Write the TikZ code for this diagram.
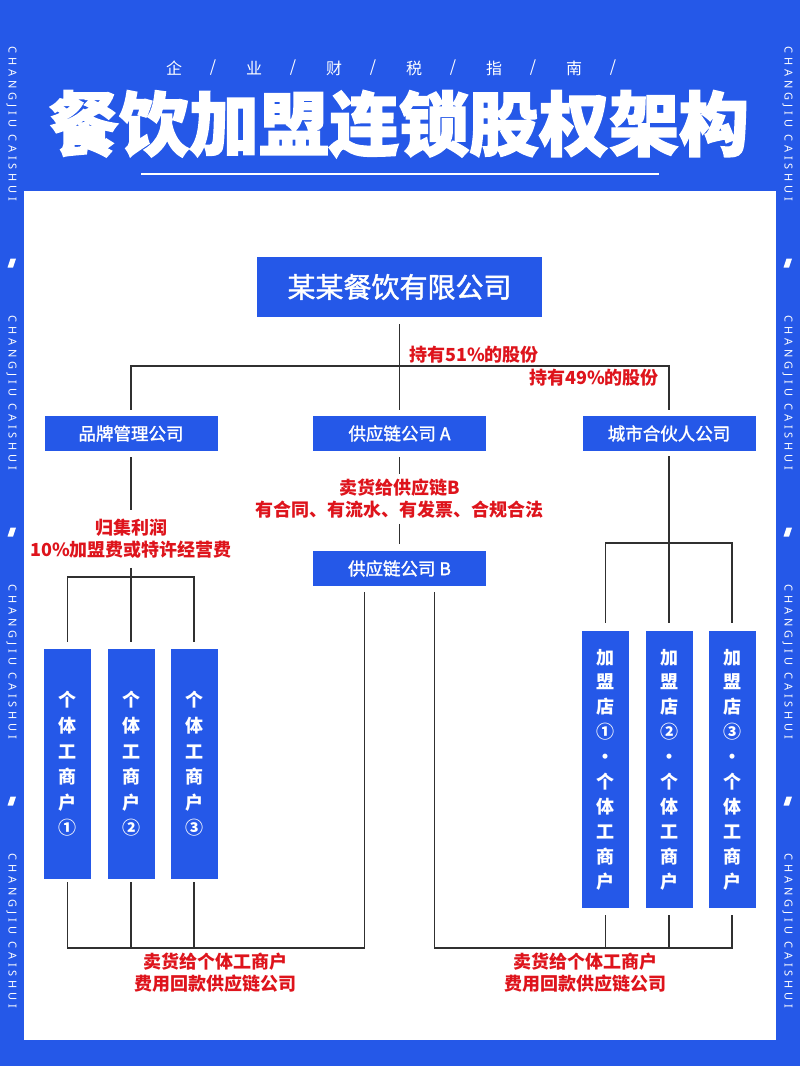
\documentclass[tikz,border=0pt]{standalone}
\usepackage{fontspec}
\setmainfont{Noto Sans CJK SC}
\newfontfamily\sidefont{Noto Sans}[LetterSpace=36]
\newfontfamily\medfont{Noto Sans CJK SC}[FakeBold=1.6]
\newfontfamily\titlefont{Noto Sans CJK SC}[BoldFeatures={FakeBold=2}]
\definecolor{bblue}{RGB}{37,88,232}
\definecolor{lred}{RGB}{222,20,28}
\definecolor{lgray}{RGB}{48,48,48}
\begin{document}
\begin{tikzpicture}[x=1pt,y=-1pt,
  box/.style={fill=bblue,text=white,inner sep=0pt,minimum width=173pt,minimum height=35pt,font=\medfont\fontsize{17.5}{20}\selectfont},
  tallL/.style={fill=bblue,text=white,inner sep=0pt,minimum width=47pt,minimum height=230pt,align=center,font=\fontsize{18}{25.6}\selectfont\bfseries},
  tallR/.style={fill=bblue,text=white,inner sep=0pt,minimum width=47pt,minimum height=277pt,align=center,font=\fontsize{18}{24.9}\selectfont\bfseries},
  lbl/.style={text=lred,align=center,font=\fontsize{18}{22}\selectfont\bfseries,inner xsep=0pt,inner ysep=0pt},
  conn/.style={draw=lgray,line width=1.6pt},
  side/.style={text=white,rotate=-90,font=\sidefont\fontsize{11}{12}\selectfont,inner sep=0pt},
  sub/.style={text=white,font=\fontsize{16}{18}\selectfont,inner sep=0pt},
]
\fill[bblue] (0,0) rectangle (800,1066);
\useasboundingbox (0,0) rectangle (800,1066);
\fill[white] (24,191) rectangle (776,1040);

% side texts
\foreach \k/\yy in {1/124,2/393,3/662,4/931}{
  \node[side] (sl\k) at (11.5,\yy) {CHANGJIU CAISHUI};
  \node[side] (sr\k) at (787.5,\yy) {CHANGJIU CAISHUI};
}
\foreach \yy in {263,532,801}{
  \fill[white] (7.5,\yy+4.5) -- (10.5,\yy-4.5) -- (16,\yy-4.5) -- (13,\yy+4.5) -- cycle;
  \fill[white] (783.5,\yy+4.5) -- (786.5,\yy-4.5) -- (792,\yy-4.5) -- (789,\yy+4.5) -- cycle;
}

% header
\foreach \c [count=\i from 0] in {企,业,财,税,指,南}{
  \node[sub] (sc\i) at (174+80*\i,68) {\c};
  \node[sub] (ss\i) at (213+80*\i,68) {/};
}
\node[text=white,inner sep=0pt,font=\titlefont\bfseries\fontsize{70}{70}\selectfont] (title) at (399,124) {餐饮加盟连锁股权架构};
\draw[white,line width=2.5pt] (141,174) -- (659,174);

% boxes
\node[box,minimum width=285pt,minimum height=60pt,font=\medfont\fontsize{28}{30}\selectfont] (top) at (399.5,287) {某某餐饮有限公司};
\node[box] (brand) at (131,433.5) {品牌管理公司};
\node[box] (supA) at (399.5,433.5) {供应链公司 A};
\node[box] (city) at (669,433.5) {城市合伙人公司};
\node[box] (supB) at (399.5,568.5) {供应链公司 B};

\node[tallL] (i1) at (67.5,764) {个\\体\\工\\商\\户\\①};
\node[tallL] (i2) at (131,764) {个\\体\\工\\商\\户\\②};
\node[tallL] (i3) at (194,764) {个\\体\\工\\商\\户\\③};

\node[tallR] (f1) at (605.5,769.5) {加\\盟\\店\\①\\·\\个\\体\\工\\商\\户};
\node[tallR] (f2) at (669,769.5) {加\\盟\\店\\②\\·\\个\\体\\工\\商\\户};
\node[tallR] (f3) at (732,769.5) {加\\盟\\店\\③\\·\\个\\体\\工\\商\\户};

% labels
\node[lbl,anchor=west] (l51) at (409,355) {持有51\%的股份};
\node[lbl,anchor=east] (l49) at (659,378) {持有49\%的股份};
\node[lbl,inner ysep=9pt] (lblL) at (131,539) {归集利润\\10\%加盟费或特许经营费};
\node[lbl,inner ysep=5pt] (lblA) at (399.5,499) {卖货给供应链B\\有合同、有流水、有发票、合规合法};
\node[lbl] (botL) at (215,972.5) {卖货给个体工商户\\费用回款供应链公司};
\node[lbl] (botR) at (585,972.5) {卖货给个体工商户\\费用回款供应链公司};

% coordinates
\coordinate (j1) at (400,366);
\coordinate (jL) at (131,577);
\coordinate (jR) at (669,543);
\coordinate (jBot) at (400,948);
\coordinate (bl) at ([xshift=-35pt,yshift=-6pt]supB.south);
\coordinate (br) at ([xshift=35pt,yshift=-6pt]supB.south);

% connectors
\draw[conn] ([yshift=-7pt]top.south) -- ([yshift=6pt]supA.north);
\draw[conn] ([yshift=6pt]brand.north) |- (j1) -| ([yshift=6pt]city.north);

\draw[conn] ([yshift=-6pt]brand.south) -- (lblL.north);
\draw[conn] (lblL.south) -- ([yshift=7pt]i2.north);
\draw[conn] ([yshift=7pt]i1.north) |- (jL) -| ([yshift=7pt]i3.north);

\draw[conn] ([yshift=-6pt]supA.south) -- (lblA.north);
\draw[conn] (lblA.south) -- ([yshift=7pt]supB.north);

\draw[conn] ([yshift=-5pt]city.south) -- ([yshift=8pt]f2.north);
\draw[conn] ([yshift=8pt]f1.north) |- (jR) -| ([yshift=8pt]f3.north);

\draw[conn] ([yshift=-3pt]i1.south) |- (bl |- jBot) -- (bl);
\draw[conn] ([yshift=-3pt]i2.south) -- (i2.south |- jBot);
\draw[conn] ([yshift=-3pt]i3.south) -- (i3.south |- jBot);

\draw[conn] (br) -- (br |- jBot) -| ([yshift=-7pt]f3.south);
\draw[conn] ([yshift=-7pt]f1.south) -- (f1.south |- jBot);
\draw[conn] ([yshift=-7pt]f2.south) -- (f2.south |- jBot);
\end{tikzpicture}
\end{document}
